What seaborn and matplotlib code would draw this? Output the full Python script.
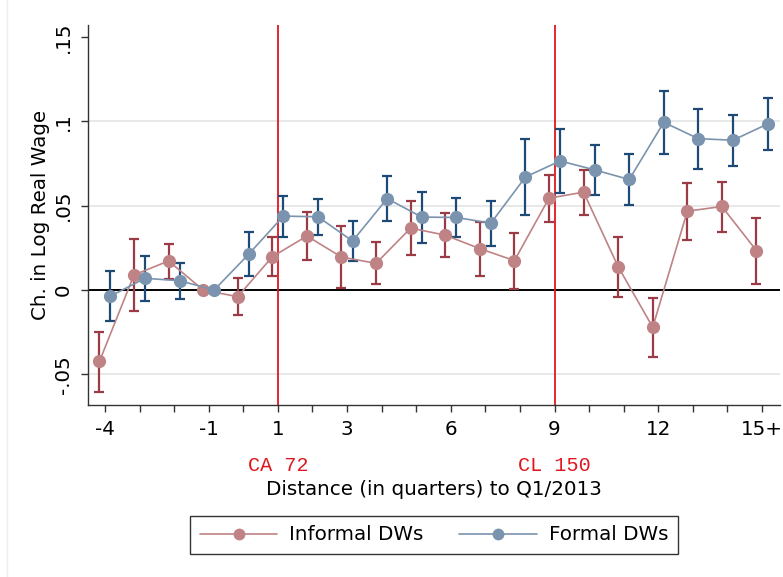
import numpy as np
import pandas as pd
import matplotlib
matplotlib.use("Agg")
import matplotlib.pyplot as plt
from matplotlib.lines import Line2D
import seaborn as sns

# Event-time quarters relative to Q1/2013 (last bin is 15+)
quarters = list(range(-4, 16))
tick_labels = {-4: "-4", -1: "-1", 1: "1", 3: "3", 6: "6", 9: "9", 12: "12", 15: "15+"}

# Informal domestic workers: point estimates and 95% CI
informal_est = [-0.0424, 0.0089, 0.0172, 0.0000, -0.0040, 0.0197, 0.0320, 0.0195, 0.0158, 0.0367,
                0.0325, 0.0245, 0.0174, 0.0544, 0.0580, 0.0138, -0.0221, 0.0467, 0.0495, 0.0233]
informal_lo = [-0.0605, -0.0122, 0.0063, 0.0000, -0.0146, 0.0083, 0.0178, 0.0014, 0.0034, 0.0205,
               0.0193, 0.0081, 0.0004, 0.0404, 0.0446, -0.0043, -0.0395, 0.0294, 0.0345, 0.0036]
informal_hi = [-0.0247, 0.0302, 0.0272, 0.0000, 0.0073, 0.0314, 0.0462, 0.0377, 0.0286, 0.0530,
               0.0458, 0.0404, 0.0339, 0.0684, 0.0714, 0.0314, -0.0047, 0.0637, 0.0643, 0.0428]

# Formal domestic workers: point estimates and 95% CI
formal_est = [-0.0036, 0.0069, 0.0055, 0.0000, 0.0213, 0.0438, 0.0434, 0.0290, 0.0542, 0.0432,
              0.0430, 0.0396, 0.0670, 0.0765, 0.0712, 0.0655, 0.0994, 0.0897, 0.0888, 0.0984]
formal_lo = [-0.0183, -0.0067, -0.0055, 0.0000, 0.0083, 0.0316, 0.0323, 0.0170, 0.0410, 0.0278,
             0.0314, 0.0260, 0.0446, 0.0574, 0.0564, 0.0505, 0.0805, 0.0720, 0.0736, 0.0830]
formal_hi = [0.0112, 0.0201, 0.0162, 0.0000, 0.0343, 0.0560, 0.0540, 0.0410, 0.0677, 0.0582,
             0.0544, 0.0529, 0.0895, 0.0953, 0.0860, 0.0805, 0.1181, 0.1071, 0.1036, 0.1136]

# Reform dates marked on the axis
events = [1, 9]
event_labels = ["CA 72", "CL 150"]

groups = ["Informal DWs", "Formal DWs"]
offsets = {"Informal DWs": -0.16, "Formal DWs": 0.16}
point_colors = {"Informal DWs": "#BF8385", "Formal DWs": "#7A93AE"}
bar_colors = {"Informal DWs": "#9A3B45", "Formal DWs": "#1E4A78"}
event_color = "#E0161E"

df = pd.concat([
    pd.DataFrame({"quarter": quarters, "est": informal_est, "lo": informal_lo,
                  "hi": informal_hi, "group": "Informal DWs"}),
    pd.DataFrame({"quarter": quarters, "est": formal_est, "lo": formal_lo,
                  "hi": formal_hi, "group": "Formal DWs"}),
], ignore_index=True)
df["xpos"] = df["quarter"] + df["group"].map(offsets)

sns.set_theme(style="white")
plt.rcParams["font.family"] = ["DejaVu Sans"]
plt.rcParams["text.color"] = "black"
plt.rcParams["axes.labelcolor"] = "black"
plt.rcParams["xtick.color"] = "black"
plt.rcParams["ytick.color"] = "black"
FS = 14.3

fig = plt.figure(figsize=(7.83, 5.77), dpi=100)
ax = fig.add_axes([88 / 783, 1 - 405 / 577, 692 / 783, 380 / 577])

# light grid and zero line
for yv in [-0.05, 0.05, 0.10]:
    ax.axhline(yv, color="#E6E6E6", lw=1.3, zorder=0)
ax.axhline(0, color="black", lw=1.4, zorder=1)
for xv in events:
    ax.axvline(xv, color=event_color, lw=1.3, zorder=1)

# confidence intervals
for g in groups:
    sub = df[df["group"] == g]
    ax.errorbar(sub["xpos"], sub["est"],
                yerr=[sub["est"] - sub["lo"], sub["hi"] - sub["est"]],
                fmt="none", ecolor=bar_colors[g], elinewidth=1.6,
                capsize=3.8, capthick=1.6, zorder=2)

# point estimates connected by lines
sns.lineplot(data=df, x="xpos", y="est", hue="group", hue_order=groups,
             palette=point_colors, estimator=None, sort=True, marker="o",
             markersize=9.5, markeredgewidth=0, linewidth=1.2, legend=False,
             ax=ax, zorder=3)

ax.set_xlim(-4.49, 15.52)
ax.set_ylim(-0.0682, 0.1571)

ax.set_xticks(quarters)
ax.set_xticklabels([tick_labels.get(q, "") for q in quarters], fontsize=FS)
ax.set_yticks([-0.05, 0, 0.05, 0.10, 0.15])
ax.set_yticklabels(["-.05", "0", ".05", ".1", ".15"], fontsize=FS,
                   rotation=90, va="center")
ax.tick_params(axis="both", which="both", direction="out", length=5,
               width=1, color="#333333", labelcolor="black", bottom=True, left=True)
ax.tick_params(axis="x", pad=6)
ax.tick_params(axis="y", pad=6)

for s in ["top", "right"]:
    ax.spines[s].set_visible(False)
for s in ["left", "bottom"]:
    ax.spines[s].set_color("#333333")
    ax.spines[s].set_linewidth(1.0)

ax.set_ylabel("Ch. in Log Real Wage", fontsize=FS, labelpad=3, color="black")
ax.set_xlabel("Distance (in quarters) to Q1/2013", fontsize=FS, color="black")
ax.xaxis.set_label_coords(0.5, -0.197)

for xv, lab in zip(events, event_labels):
    ax.text(xv, -0.16, lab, transform=ax.get_xaxis_transform(),
            ha="center", va="center", color=event_color,
            fontsize=14.5, family=["Liberation Mono", "DejaVu Sans Mono"])

handles = [Line2D([], [], color=point_colors[g], marker="o", markersize=8.5,
                  markeredgewidth=0, lw=1.2) for g in groups]
leg = fig.legend(handles, groups, loc="center", bbox_to_anchor=(434 / 783, 1 - 535 / 577),
                 ncol=2, fontsize=FS, frameon=True, fancybox=False, shadow=False,
                 handlelength=3.9, handletextpad=0.6, columnspacing=1.8,
                 borderpad=0.5, borderaxespad=0)
leg.get_frame().set_edgecolor("black")
leg.get_frame().set_linewidth(1.0)
for t in leg.get_texts():
    t.set_color("black")

# faint outer border line on the left of the graph region
fig.add_artist(Line2D([7 / 783, 7 / 783], [0, 1], color="#EEEEEE", lw=1.0,
                      transform=fig.transFigure))

fig.savefig("out.png", dpi=100)
